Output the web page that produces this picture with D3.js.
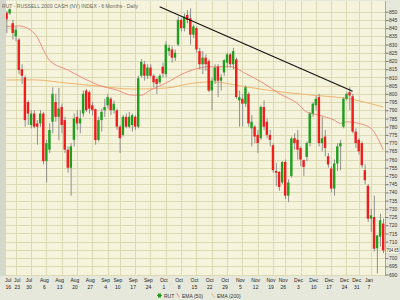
<!DOCTYPE html>
<html><head><meta charset="utf-8">
<script src="https://cdn.jsdelivr.net/npm/d3@7"></script>
<style>html,body{margin:0;padding:0;background:#e6e8dc;}svg{display:block}</style>
</head><body>
<svg id="c" width="400" height="300"></svg>
<script>
const title = "RUT - RUSSELL 2000 CASH (NY) INDEX - 6 Months - Daily";
const dates = [
"2007-07-16","2007-07-17","2007-07-18","2007-07-19","2007-07-20","2007-07-23","2007-07-24","2007-07-25","2007-07-26","2007-07-27",
"2007-07-30","2007-07-31","2007-08-01","2007-08-02","2007-08-03","2007-08-06","2007-08-07","2007-08-08","2007-08-09","2007-08-10",
"2007-08-13","2007-08-14","2007-08-15","2007-08-16","2007-08-17","2007-08-20","2007-08-21","2007-08-22","2007-08-23","2007-08-24",
"2007-08-27","2007-08-28","2007-08-29","2007-08-30","2007-08-31","2007-09-04","2007-09-05","2007-09-06","2007-09-07","2007-09-10",
"2007-09-11","2007-09-12","2007-09-13","2007-09-14","2007-09-17","2007-09-18","2007-09-19","2007-09-20","2007-09-21","2007-09-24",
"2007-09-25","2007-09-26","2007-09-27","2007-09-28","2007-10-01","2007-10-02","2007-10-03","2007-10-04","2007-10-05","2007-10-08",
"2007-10-09","2007-10-10","2007-10-11","2007-10-12","2007-10-15","2007-10-16","2007-10-17","2007-10-18","2007-10-19","2007-10-22",
"2007-10-23","2007-10-24","2007-10-25","2007-10-26","2007-10-29","2007-10-30","2007-10-31","2007-11-01","2007-11-02","2007-11-05",
"2007-11-06","2007-11-07","2007-11-08","2007-11-09","2007-11-12","2007-11-13","2007-11-14","2007-11-15","2007-11-16","2007-11-19",
"2007-11-20","2007-11-21","2007-11-23","2007-11-26","2007-11-27","2007-11-28","2007-11-29","2007-11-30","2007-12-03","2007-12-04",
"2007-12-05","2007-12-06","2007-12-07","2007-12-10","2007-12-11","2007-12-12","2007-12-13","2007-12-14","2007-12-17","2007-12-18",
"2007-12-19","2007-12-20","2007-12-21","2007-12-24","2007-12-26","2007-12-27","2007-12-28","2007-12-31","2008-01-02","2008-01-03",
"2008-01-04","2008-01-07","2008-01-08","2008-01-09","2008-01-10","2008-01-11"];
const opens = [850,848,849.4,849,843,835,833,815,810,795,
781,788,782,782,788,759,766,783,795,786,
792,784,766,755,772,786,782,788,802,801,
793,790.6,772,784,790,793,797,790,790,780,
775,786,780,781,786,780,811,818,811,816,
811,809,807,816.5,812,826,827,822,830,845,
840,848,846,836,840,826,818,822,820,802,
808,816.5,808,813,819,824,818,821,796,797,
794,800,779,780,775,773,792,783,775,768.7,
753,752.4,746,758.5,738,750,773,772,767,759.6,
761.6,770,788,793,798,770,774,762,754.5,742.3,
757.6,768,780,797,801,798.5,777,772,770,753.5,
744,724,725,706,713,721];
const highs = [853,852,850.5,852,845,841,834,818,811,796,
790,790,784,790,789,772,782,804,800,803.6,
794,786,768,770,788,790,790,802,803,802,
795,791,786,791,797,800,798,796,791,781,
787,788,789,788,787,811,821,820,818,818,
812,810,812,819,832,830,829,827,847,846,
849,851,852,842,841,828,826,824,821,810,
818,818,812,821,825,825,828,822,802,800,
805,801,787,781,778,793,796,785,778,770,
758,753,759,760,748,774,776,778,768,760,
771,789,795,799,800,786,778,764,756,760,
770,772,798,801,804,800,779,773,771,757,
745,730,738,714,727,724];
const lows = [845,846,837,848,833,832,812,806,780,781,
779,779,769,780,757,746,764,776,783,771.7,
776,764,752,738,768,778,776,786,789,788,
787,769,771,777,786,791,787,788,778,764,
774,779,779,777,778,779,810,808,809,810,
804,800,806,810,810,823,819,820,829,838,
838,843,830,834,825,815,812,814,801,790,
806,798,802,811,816,816,815,797,780,780,
792,780,768,770,764,772,778,773,768,752,
744,741,745,736,734,749,766,760,756,750,
759,768,786,790,768,765,762,755,740,738,
753,753.5,779,796,790,776,767,763,755,745,
722,716,704,690.7,707,703];
const closes = [848,849,845.4,851.5,837,839,814.5,811,784,788,
788,780,780,788,759,770,778,800,786,791,
781,766,755,768,785,782,785,800,790,791,
790,771.8,784,789,792,798,790,794,780,773,
786,780,786,787,780,809.5,819.5,811,816,811,
807,806,811,812.4,830,828,822,825,845,840,
847,845,836,841,827,818,822,818,802,808,
816,808,810,820.5,824,818,826,798,798,794,
804,782,783,774,770,792,780,775,772,753.5,
752,743.3,758.5,738,746,772.8,770,766,760,755.5,
770,788,794,797,770,773,767,757,742.3,757.6,
768,770,797,800,799,777,770,765,756.5,747.4,
724,726,705.7,713.8,723,704.65];

const ema50Dates = ["2007-07-18","2007-07-24","2007-07-31","2007-08-07","2007-08-15","2007-08-22","2007-08-29","2007-09-07","2007-09-14","2007-09-19","2007-09-24","2007-10-01","2007-10-09","2007-10-16","2007-10-19","2007-10-30","2007-11-06","2007-11-14","2007-11-21","2007-11-30","2007-12-05","2007-12-11","2007-12-18","2007-12-20","2007-12-24","2007-12-31","2008-01-07","2008-01-11"];
const ema50Values = [841,841.3,837,820.5,814.5,809.6,805.3,802.3,799.2,799.2,802.3,806.5,812.6,815.7,816.5,816.5,812.4,806.3,800.2,794.1,789,787,784,782,783,782,779,766];
const ema200Dates = ["2007-07-18","2007-07-31","2007-08-15","2007-08-29","2007-09-14","2007-10-01","2007-10-12","2007-10-22","2007-11-06","2007-11-21","2007-12-07","2007-12-24","2008-01-11"];
const ema200Values = [808.4,808.5,806.5,804.7,802.9,803.5,806.5,807.3,804.3,801.3,799.2,797.2,792];
const trendDates = ["2007-09-27","2007-12-27"];
const trendValues = [853,801.5];

const tickDates = ["2007-07-16","2007-07-23","2007-07-30","2007-08-06","2007-08-13","2007-08-20","2007-08-27","2007-09-04","2007-09-10","2007-09-17","2007-09-24","2007-10-01","2007-10-08","2007-10-15","2007-10-22","2007-10-29","2007-11-05","2007-11-12","2007-11-19","2007-11-26","2007-12-03","2007-12-10","2007-12-17","2007-12-24","2007-12-31","2008-01-07"];
const tickMonths = ["Jul","Jul","Jul","Aug","Aug","Aug","Aug","Sep","Sep","Sep","Sep","Oct","Oct","Oct","Oct","Oct","Nov","Nov","Nov","Nov","Dec","Dec","Dec","Dec","Dec","Jan"];
const tickDays = ["16","23","30","6","13","20","27","4","10","17","24","1","8","15","22","29","5","12","19","26","3","10","17","24","31","7"];
const yTicks = [690,695,700,705,710,715,720,725,730,735,740,745,750,755,760,765,770,775,780,785,790,795,800,805,810,815,820,825,830,835,840,845,850];
const lastLabel = "704.65";
const legendNames = ["RUT","EMA (50)","EMA (200)"];

const L=6,R=385,T=1,B=276;
const svg = d3.select("#c");
const x = d3.scalePoint().domain(dates).range([0.4, 383.2]);
const y = d3.scaleLinear().domain([690,850]).range([274.5,11.7]);
const font = "'Liberation Sans', Arial, sans-serif";

svg.append("rect").attr("width",400).attr("height",300).attr("fill","#e6e8dc");
svg.append("rect").attr("x",L).attr("y",T).attr("width",R-L).attr("height",B-T).attr("fill","#f5f3dc");
svg.append("clipPath").attr("id","pc").append("rect").attr("x",L).attr("y",T).attr("width",R-L).attr("height",B-T);
const g = svg.append("g").attr("clip-path","url(#pc)");

g.selectAll(".hg").data(yTicks).join("line")
  .attr("x1",L).attr("x2",R)
  .attr("y1",d=>Math.round(y(d))+0.5).attr("y2",d=>Math.round(y(d))+0.5)
  .attr("stroke","#dcdab2").attr("stroke-width",1);
g.selectAll(".vg").data(tickDates.slice(1)).join("line")
  .attr("x1",d=>Math.round(x(d))+0.5).attr("x2",d=>Math.round(x(d))+0.5)
  .attr("y1",T).attr("y2",B)
  .attr("stroke","#dcdab2").attr("stroke-width",1);

// EMA lines
const line = d3.line().x(d=>x(d[0])).y(d=>y(d[1])).curve(d3.curveMonotoneX);
g.append("path").attr("d",line(ema200Dates.map((d,i)=>[d,ema200Values[i]])))
  .attr("fill","none").attr("stroke","#f0b46c").attr("stroke-width",1);
g.append("path").attr("d",line(ema50Dates.map((d,i)=>[d,ema50Values[i]])))
  .attr("fill","none").attr("stroke","#f08c7e").attr("stroke-width",1);

// candles
const candles = dates.map((d,i)=>({d,o:opens[i],h:highs[i],l:lows[i],c:closes[i]}));
const bw = 2.4;
g.selectAll(".wick").data(candles).join("line")
  .attr("x1",d=>x(d.d)+0.3).attr("x2",d=>x(d.d)+0.3)
  .attr("y1",d=>y(d.h)).attr("y2",d=>y(d.l))
  .attr("stroke","#8e8e8e").attr("stroke-width",1);
g.selectAll(".body").data(candles).join("rect")
  .attr("x",d=>x(d.d)-bw/2).attr("width",bw)
  .attr("y",d=>y(Math.max(d.o,d.c)))
  .attr("height",d=>Math.max(1,Math.abs(y(d.o)-y(d.c))))
  .attr("fill",d=>d.c>=d.o?"#1ea01e":"#f21c1c");

// trend line
g.append("line")
  .attr("x1",x(trendDates[0])).attr("y1",y(trendValues[0]))
  .attr("x2",x(trendDates[1])).attr("y2",y(trendValues[1]))
  .attr("stroke","#111").attr("stroke-width",1.1);

// left strip
svg.append("rect").attr("x",0).attr("y",0).attr("width",L).attr("height",B).attr("fill","#d4d8cb");

// right axis
svg.append("line").attr("x1",R+0.5).attr("x2",R+0.5).attr("y1",T).attr("y2",B).attr("stroke","#a8a898");
const ax = svg.append("g").attr("transform",`translate(${R+0.5},0)`)
  .call(d3.axisRight(y).tickValues(yTicks).tickSize(3).tickFormat(d3.format("d")));
ax.select(".domain").remove();
ax.selectAll(".tick line").attr("stroke","#777");
ax.selectAll(".tick text").attr("x",3.5).attr("font-size",5).attr("font-family",font).attr("fill","#333");
// the last-value box takes the place of the 705 label
ax.selectAll(".tick text").filter(d=>d===705).remove();

// last value box
const ly = y(closes[closes.length-1]);
svg.append("rect").attr("x",R+1).attr("y",ly-3.5).attr("width",13.5).attr("height",7)
  .attr("fill","#fbfbe8").attr("stroke","#b8b8a0").attr("stroke-width",0.5);
svg.append("text").attr("x",R+1.6).attr("y",ly+1.8).text(lastLabel)
  .attr("font-size",4.8).attr("font-family",font).attr("fill","#222")
  .attr("textLength",12.2).attr("lengthAdjust","spacingAndGlyphs");

// x labels
let prev = -100;
const lx = tickDates.map(d=>{ let v = Math.max(x(d)-2, 8.3, prev+9); prev = v; return v; });
svg.selectAll(".mo").data(tickMonths).join("text")
  .attr("x",(d,i)=>lx[i]).attr("y",281.5).attr("text-anchor","middle")
  .attr("font-size",5).attr("font-family",font).attr("fill","#222").text(d=>d);
svg.selectAll(".dy").data(tickDays).join("text")
  .attr("x",(d,i)=>lx[i]).attr("y",289).attr("text-anchor","middle")
  .attr("font-size",5).attr("font-family",font).attr("fill","#222").text(d=>d);

// legend
const lg = svg.append("g");
lg.append("rect").attr("x",158).attr("y",293.5).attr("width",3).attr("height",4).attr("fill","#1ea01e");
lg.append("line").attr("x1",157).attr("x2",162).attr("y1",295.5).attr("y2",295.5).attr("stroke","#1ea01e").attr("stroke-width",1);
lg.append("line").attr("x1",176.5).attr("y1",293).attr("x2",179.5).attr("y2",297.5).attr("stroke","#f08c7e").attr("stroke-width",1);
lg.append("line").attr("x1",211.5).attr("y1",293).attr("x2",214.5).attr("y2",297.5).attr("stroke","#f0b46c").attr("stroke-width",1);
const legX = [164,182,217];
lg.selectAll("text").data(legendNames).join("text")
  .attr("x",(d,i)=>legX[i]).attr("y",297.5)
  .attr("font-size",5).attr("font-family",font).attr("fill","#333").text(d=>d);

// title
svg.append("text").attr("x",2).attr("y",8).text(title)
  .attr("font-size",5.3).attr("font-family",font).attr("fill","#666")
  .attr("textLength",136).attr("lengthAdjust","spacingAndGlyphs");
</script>
</body></html>
